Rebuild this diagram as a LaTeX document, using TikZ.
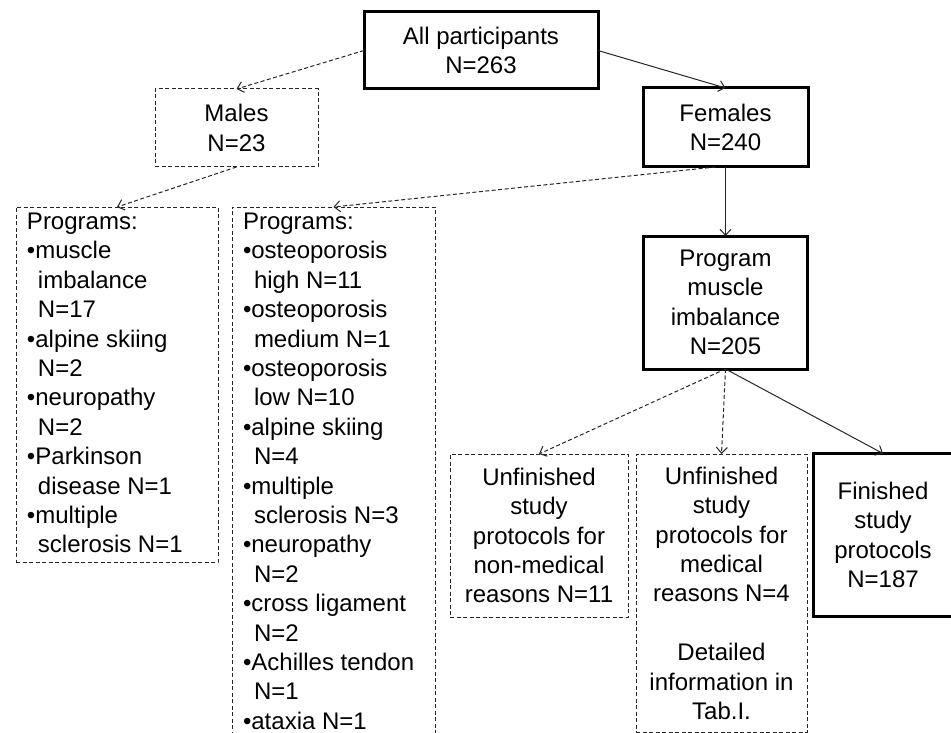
\documentclass[tikz,border=0pt]{standalone}
\usepackage{fontspec}
\setmainfont{Liberation Sans}
\usetikzlibrary{arrows.meta}
\newcommand\hangind{\hspace*{11pt}}
\begin{document}
\begin{tikzpicture}[x=1pt,y=-1pt,
  every node/.style={inner sep=0pt, outer sep=0pt, font=\fontsize{24}{29.4}\selectfont},
  sbox/.style={draw=black, line width=3pt, align=center},
  dbox/.style={draw=black!85, line width=1pt, dash pattern=on 4pt off 2.5pt, align=center},
  ltext/.style={align=left, anchor=north west},
  sarr/.style={draw=black!85, line width=1pt, -{Straight Barb[length=6pt,width=11pt]}},
  darr/.style={sarr, dash pattern=on 4pt off 2.5pt},
]
\useasboundingbox (0,0) rectangle (951,733);
\clip (0,0) rectangle (951,733);

% top level
\node[sbox, minimum width=234pt, minimum height=77pt] (all) at (481,50.5) {All participants\\N=263};
\node[dbox, minimum width=163pt, minimum height=78pt] (males) at (236.5,128) {Males\\N=23};
\node[sbox, minimum width=165pt, minimum height=79pt] (females) at (725.5,127.5) {Females\\N=240};
\node[sbox, minimum width=164pt, minimum height=133pt] (prog) at (725.5,302.5) {Program\\muscle\\imbalance\\N=205};

% program lists
\node[dbox, minimum width=202pt, minimum height=355pt, anchor=north west] (left) at (16,207) {};
\node[ltext] (lefttxt) at (27,213) {Programs:\\
•muscle\\\hangind imbalance\\\hangind N=17\\
•alpine skiing\\\hangind N=2\\
•neuropathy\\\hangind N=2\\
•Parkinson\\\hangind disease N=1\\
•multiple\\\hangind sclerosis N=1};

\node[dbox, minimum width=203pt, minimum height=545pt, anchor=north west] (mid) at (232,207) {};
\node[ltext] (midtxt) at (243,213) {Programs:\\
•osteoporosis\\\hangind high N=11\\
•osteoporosis\\\hangind medium N=1\\
•osteoporosis\\\hangind low N=10\\
•alpine skiing\\\hangind N=4\\
•multiple\\\hangind sclerosis N=3\\
•neuropathy\\\hangind N=2\\
•cross ligament\\\hangind N=2\\
•Achilles tendon\\\hangind N=1\\
•ataxia N=1};

% outcomes
\node[dbox, minimum width=178pt, minimum height=163pt] (nonmed) at (539,535.5) {Unfinished\\study\\protocols for\\non-medical\\reasons N=11};
\node[dbox, minimum width=171pt, minimum height=278pt, anchor=north] (med) at (721.5,454) {};
\node[align=center, anchor=north] (medtxt) at (721.5,467) {Unfinished\\study\\protocols for\\medical\\reasons N=4\\[29.4pt]Detailed\\information in\\Tab.I.};
\node[sbox, minimum width=140pt, minimum height=163pt] (fin) at (883,535) {Finished\\study\\protocols\\N=187};

% connectors
\draw[darr] (all.west) -- (males.north);
\draw[sarr] (all.east) -- (females.north);
\draw[darr] (males.south) -- (left.north);
\draw[darr] ([xshift=-10pt]females.south) -- (mid.north);
\draw[sarr] (females.south) -- (prog.north);
\draw[darr] (prog.south) -- (nonmed.north);
\draw[darr] (prog.south) -- (med.north);
\draw[sarr] (prog.south) -- (fin.north);
\end{tikzpicture}
\end{document}
